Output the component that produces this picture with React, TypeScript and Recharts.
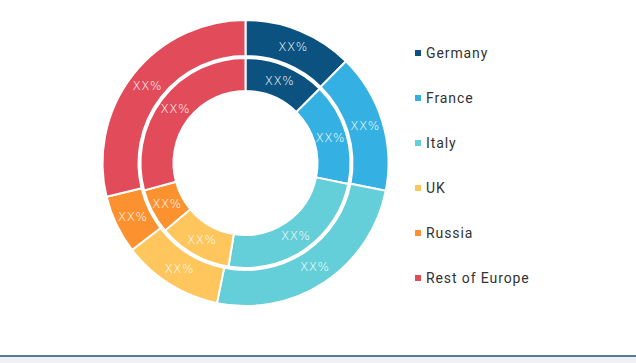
import { Pie, PieChart, Cell, Legend } from "recharts";

const COUNTRIES = ["Germany", "France", "Italy", "UK", "Russia", "Rest of Europe"];
const INNER_SHARE = [12.5, 15.7, 24.4, 11.3, 6.9, 29.2];
const OUTER_SHARE = [12.4, 15.7, 25.1, 11.4, 6.6, 28.8];
const LABEL = "XX%";

const COLORS: Record<string, string> = {
  Germany: "#0b5281",
  France: "#35b0e2",
  Italy: "#64cfd8",
  UK: "#fec65c",
  Russia: "#fc922f",
  "Rest of Europe": "#e24b5a",
};

const innerData = COUNTRIES.map((name, i) => ({ name, value: INNER_SHARE[i] }));
const outerData = COUNTRIES.map((name, i) => ({ name, value: OUTER_SHARE[i] }));

const RADIAN = Math.PI / 180;

function SliceLabel(props: any) {
  const { cx, cy, midAngle, innerRadius, outerRadius } = props;
  const r = (innerRadius + outerRadius) / 2;
  const x = cx + r * Math.cos(-midAngle * RADIAN);
  const y = cy + r * Math.sin(-midAngle * RADIAN);
  return (
    <text
      x={x}
      y={y}
      fill="#ffffff"
      fontSize={12}
      fontWeight={200}
      letterSpacing={0.5}
      fontFamily="'DejaVu Sans', sans-serif"
      textAnchor="middle"
      dominantBaseline="central"
    >
      {LABEL}
    </text>
  );
}

function LegendList() {
  return (
    <div>
      {COUNTRIES.map((name) => (
        <div
          key={name}
          style={{ display: "flex", alignItems: "center", height: 45 }}
        >
          <span
            style={{
              display: "inline-block",
              width: 6,
              height: 6,
              background: COLORS[name],
              marginRight: 5,
            }}
          />
          <span
            style={{
              fontFamily: "Roboto, sans-serif",
              fontSize: 14,
              letterSpacing: 0.9,
              color: "#333333",
            }}
          >
            {name}
          </span>
        </div>
      ))}
    </div>
  );
}

export default function App() {
  return (
    <div
      style={{
        position: "absolute",
        left: 0,
        top: 0,
        width: 636,
        height: 363,
        background: "#ffffff",
      }}
    >
      <PieChart width={636} height={355} margin={{ top: 0, right: 0, bottom: 0, left: 0 }}>
        <Pie
          data={innerData}
          dataKey="value"
          nameKey="name"
          cx={245.5}
          cy={163}
          innerRadius={72}
          outerRadius={105}
          startAngle={90}
          endAngle={-270}
          stroke="#ffffff"
          strokeWidth={2}
          label={SliceLabel}
          labelLine={false}
          isAnimationActive={false}
        >
          {innerData.map((d) => (
            <Cell key={d.name} fill={COLORS[d.name]} />
          ))}
        </Pie>
        <Pie
          data={outerData}
          dataKey="value"
          nameKey="name"
          cx={245.5}
          cy={163}
          innerRadius={107}
          outerRadius={143}
          startAngle={90}
          endAngle={-270}
          stroke="#ffffff"
          strokeWidth={2}
          label={SliceLabel}
          labelLine={false}
          isAnimationActive={false}
        >
          {outerData.map((d) => (
            <Cell key={d.name} fill={COLORS[d.name]} />
          ))}
        </Pie>
        <Legend
          layout="vertical"
          align="right"
          verticalAlign="top"
          content={<LegendList />}
          wrapperStyle={{ left: 415, top: 30.5, width: 200 }}
        />
      </PieChart>
      <div
        style={{
          position: "absolute",
          left: 0,
          top: 355,
          width: 636,
          height: 6,
          borderTop: "2px solid #587898",
          background: "#eef2f7",
        }}
      />
    </div>
  );
}
